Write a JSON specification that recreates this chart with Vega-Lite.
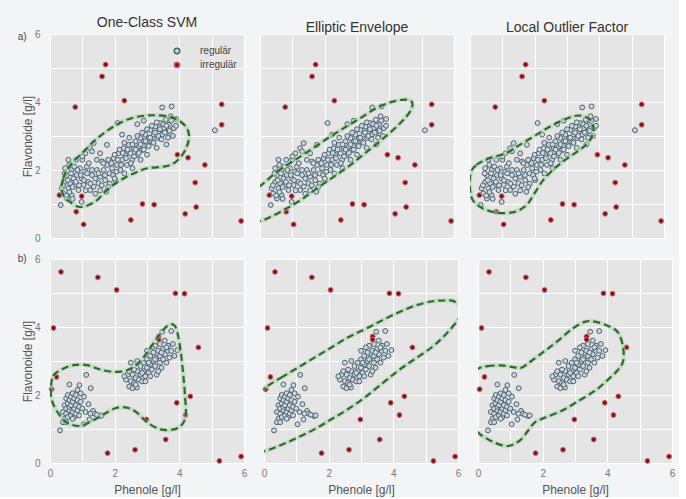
{
"$schema": "https://vega.github.io/schema/vega-lite/v6.json",
"background": "#f3f4f6",
"padding": {"left": 17, "top": 16, "right": 4, "bottom": 2},
"config": {
  "font": "Liberation Sans",
  "view": {"fill": "#e5e5e5", "stroke": null},
  "axis": {"grid": true, "gridColor": "#ffffff", "gridWidth": 1, "domain": false, "ticks": false, "labelColor": "#777777", "labelFontSize": 10, "titleColor": "#555555", "titleFontSize": 12, "titleFontWeight": "normal", "minExtent": 0, "labelFlush": false, "labelOverlap": false, "labelBound": false},
  "title": {"fontSize": 14, "fontWeight": "normal", "color": "#333333", "offset": -1},
  "legend": {"labelFontSize": 10, "labelColor": "#444444", "symbolSize": 30, "rowPadding": 2, "padding": 0, "labelOffset": 18}
},
"datasets": {
"ptsA": [
{"x":0.47,"y":1.65,"c":"regulär"},{"x":0.52,"y":1.85,"c":"regulär"},{"x":0.57,"y":1.46,"c":"regulär"},{"x":0.62,"y":1.61,"c":"regulär"},{"x":0.67,"y":2.0,"c":"regulär"},{"x":0.73,"y":1.75,"c":"regulär"},{"x":0.78,"y":1.56,"c":"regulär"},{"x":0.83,"y":1.85,"c":"regulär"},{"x":0.88,"y":1.41,"c":"regulär"},{"x":0.57,"y":2.3,"c":"regulär"},{"x":0.81,"y":2.3,"c":"regulär"},{"x":0.93,"y":2.05,"c":"regulär"},{"x":0.41,"y":1.31,"c":"regulär"},{"x":0.67,"y":1.26,"c":"regulär"},{"x":0.52,"y":1.16,"c":"regulär"},{"x":0.36,"y":1.46,"c":"regulär"},{"x":0.47,"y":2.05,"c":"regulär"},{"x":0.98,"y":1.75,"c":"regulär"},{"x":1.04,"y":1.56,"c":"regulär"},{"x":1.09,"y":1.95,"c":"regulär"},{"x":1.14,"y":2.1,"c":"regulär"},{"x":1.19,"y":1.65,"c":"regulär"},{"x":1.24,"y":1.41,"c":"regulär"},{"x":1.3,"y":1.85,"c":"regulär"},{"x":1.35,"y":1.51,"c":"regulär"},{"x":1.24,"y":2.64,"c":"regulär"},{"x":1.35,"y":2.79,"c":"regulär"},{"x":1.45,"y":2.0,"c":"regulär"},{"x":1.5,"y":1.61,"c":"regulär"},{"x":1.55,"y":1.8,"c":"regulär"},{"x":1.61,"y":2.25,"c":"regulär"},{"x":1.66,"y":2.0,"c":"regulär"},{"x":1.71,"y":1.7,"c":"regulär"},{"x":1.74,"y":1.36,"c":"regulär"},{"x":1.76,"y":2.15,"c":"regulär"},{"x":1.84,"y":1.9,"c":"regulär"},{"x":1.92,"y":2.05,"c":"regulär"},{"x":1.97,"y":2.35,"c":"regulär"},{"x":2.02,"y":1.7,"c":"regulär"},{"x":2.07,"y":2.15,"c":"regulär"},{"x":2.12,"y":2.49,"c":"regulär"},{"x":2.18,"y":2.0,"c":"regulär"},{"x":2.23,"y":2.3,"c":"regulär"},{"x":2.28,"y":2.64,"c":"regulär"},{"x":2.33,"y":2.44,"c":"regulär"},{"x":2.38,"y":2.15,"c":"regulär"},{"x":2.44,"y":2.74,"c":"regulär"},{"x":2.49,"y":2.49,"c":"regulär"},{"x":2.54,"y":2.3,"c":"regulär"},{"x":2.59,"y":2.64,"c":"regulär"},{"x":2.64,"y":2.84,"c":"regulär"},{"x":2.69,"y":2.44,"c":"regulär"},{"x":2.75,"y":2.69,"c":"regulär"},{"x":2.8,"y":2.94,"c":"regulär"},{"x":2.85,"y":2.59,"c":"regulär"},{"x":2.9,"y":2.84,"c":"regulär"},{"x":2.95,"y":3.04,"c":"regulär"},{"x":3.01,"y":2.74,"c":"regulär"},{"x":3.06,"y":2.94,"c":"regulär"},{"x":3.11,"y":3.18,"c":"regulär"},{"x":3.16,"y":2.84,"c":"regulär"},{"x":3.21,"y":3.04,"c":"regulär"},{"x":3.26,"y":3.28,"c":"regulär"},{"x":3.32,"y":2.94,"c":"regulär"},{"x":3.37,"y":3.13,"c":"regulär"},{"x":3.42,"y":3.38,"c":"regulär"},{"x":3.47,"y":3.04,"c":"regulär"},{"x":3.52,"y":3.23,"c":"regulär"},{"x":3.58,"y":3.48,"c":"regulär"},{"x":3.63,"y":3.13,"c":"regulär"},{"x":3.68,"y":3.33,"c":"regulär"},{"x":3.73,"y":3.58,"c":"regulär"},{"x":3.83,"y":3.23,"c":"regulär"},{"x":3.9,"y":3.5,"c":"regulär"},{"x":3.47,"y":3.84,"c":"regulär"},{"x":3.76,"y":3.87,"c":"regulär"},{"x":2.09,"y":3.38,"c":"regulär"},{"x":2.23,"y":3.04,"c":"regulär"},{"x":1.76,"y":2.74,"c":"regulär"},{"x":1.55,"y":2.49,"c":"regulär"},{"x":1.09,"y":2.49,"c":"regulär"},{"x":0.98,"y":1.06,"c":"regulär"},{"x":0.33,"y":0.97,"c":"regulär"},{"x":5.1,"y":3.17,"c":"regulär"},
{"x":0.45,"y":1.9,"c":"regulär"},{"x":0.55,"y":1.7,"c":"regulär"},{"x":0.6,"y":1.35,"c":"regulär"},{"x":0.65,"y":1.9,"c":"regulär"},{"x":0.7,"y":1.5,"c":"regulär"},{"x":0.75,"y":2.1,"c":"regulär"},{"x":0.8,"y":1.65,"c":"regulär"},{"x":0.85,"y":2.0,"c":"regulär"},{"x":0.9,"y":1.55,"c":"regulär"},{"x":0.95,"y":1.85,"c":"regulär"},{"x":1.0,"y":2.3,"c":"regulär"},{"x":1.05,"y":1.7,"c":"regulär"},{"x":1.1,"y":1.4,"c":"regulär"},{"x":1.15,"y":1.9,"c":"regulär"},{"x":1.2,"y":2.2,"c":"regulär"},{"x":1.25,"y":1.6,"c":"regulär"},{"x":1.3,"y":2.0,"c":"regulär"},{"x":1.4,"y":1.75,"c":"regulär"},{"x":1.45,"y":2.3,"c":"regulär"},{"x":1.5,"y":1.9,"c":"regulär"},{"x":1.6,"y":1.55,"c":"regulär"},{"x":1.65,"y":2.2,"c":"regulär"},{"x":1.7,"y":1.85,"c":"regulär"},{"x":1.8,"y":2.3,"c":"regulär"},{"x":1.85,"y":1.6,"c":"regulär"},{"x":1.9,"y":2.2,"c":"regulär"},{"x":1.95,"y":1.85,"c":"regulär"},{"x":2.0,"y":2.45,"c":"regulär"},{"x":2.05,"y":1.95,"c":"regulär"},{"x":2.1,"y":2.3,"c":"regulär"},{"x":2.15,"y":2.6,"c":"regulär"},{"x":2.2,"y":2.15,"c":"regulär"},{"x":2.25,"y":2.5,"c":"regulär"},{"x":2.3,"y":2.8,"c":"regulär"},{"x":2.35,"y":2.35,"c":"regulär"},{"x":2.4,"y":2.6,"c":"regulär"},{"x":2.45,"y":2.95,"c":"regulär"},{"x":2.5,"y":2.2,"c":"regulär"},{"x":2.55,"y":2.75,"c":"regulär"},{"x":2.6,"y":2.4,"c":"regulär"},{"x":2.65,"y":2.6,"c":"regulär"},{"x":2.7,"y":3.0,"c":"regulär"},{"x":2.75,"y":2.5,"c":"regulär"},{"x":2.8,"y":2.75,"c":"regulär"},{"x":2.85,"y":3.1,"c":"regulär"},{"x":2.9,"y":2.6,"c":"regulär"},{"x":2.95,"y":2.85,"c":"regulär"},{"x":3.0,"y":3.2,"c":"regulär"},{"x":3.05,"y":2.7,"c":"regulär"},{"x":3.1,"y":2.95,"c":"regulär"},{"x":3.15,"y":3.3,"c":"regulär"},{"x":3.2,"y":2.8,"c":"regulär"},{"x":3.25,"y":3.1,"c":"regulär"},{"x":3.3,"y":3.4,"c":"regulär"},{"x":3.35,"y":3.0,"c":"regulär"},{"x":3.4,"y":3.2,"c":"regulär"},{"x":3.45,"y":2.9,"c":"regulär"},{"x":3.5,"y":3.35,"c":"regulär"},{"x":3.55,"y":3.1,"c":"regulär"},{"x":3.6,"y":3.3,"c":"regulär"},{"x":3.65,"y":2.95,"c":"regulär"},{"x":3.7,"y":3.15,"c":"regulär"},{"x":3.75,"y":3.45,"c":"regulär"},{"x":3.8,"y":3.0,"c":"regulär"},{"x":3.9,"y":3.3,"c":"regulär"},{"x":2.7,"y":3.35,"c":"regulär"},{"x":2.9,"y":3.45,"c":"regulär"},{"x":1.3,"y":2.55,"c":"regulär"},{"x":1.0,"y":2.4,"c":"regulär"},{"x":0.6,"y":2.15,"c":"regulär"},{"x":0.4,"y":1.55,"c":"regulär"},{"x":0.5,"y":1.25,"c":"regulär"},{"x":0.7,"y":1.15,"c":"regulär"},{"x":3.6,"y":2.75,"c":"regulär"},{"x":3.3,"y":2.65,"c":"regulär"},{"x":3.0,"y":2.45,"c":"regulär"},{"x":2.8,"y":2.3,"c":"regulär"},{"x":2.55,"y":2.05,"c":"regulär"},{"x":2.3,"y":1.9,"c":"regulär"},{"x":2.0,"y":1.75,"c":"regulär"},{"x":1.8,"y":1.5,"c":"regulär"},{"x":1.55,"y":1.4,"c":"regulär"},{"x":1.4,"y":1.3,"c":"regulär"},
{"x":0.29,"y":1.26,"c":"irregulär"},{"x":0.78,"y":3.85,"c":"irregulär"},{"x":0.81,"y":0.77,"c":"irregulär"},{"x":0.98,"y":1.23,"c":"irregulär"},{"x":1.04,"y":0.4,"c":"irregulär"},{"x":1.61,"y":4.75,"c":"irregulär"},{"x":1.72,"y":5.1,"c":"irregulär"},{"x":2.3,"y":4.04,"c":"irregulär"},{"x":2.5,"y":0.53,"c":"irregulär"},{"x":2.86,"y":1.0,"c":"irregulär"},{"x":3.22,"y":0.98,"c":"irregulär"},{"x":3.94,"y":2.45,"c":"irregulär"},{"x":4.27,"y":2.36,"c":"irregulär"},{"x":4.18,"y":0.71,"c":"irregulär"},{"x":4.49,"y":1.63,"c":"irregulär"},{"x":4.52,"y":0.91,"c":"irregulär"},{"x":4.79,"y":2.15,"c":"irregulär"},{"x":5.31,"y":3.93,"c":"irregulär"},{"x":5.31,"y":3.33,"c":"irregulär"},{"x":5.91,"y":0.5,"c":"irregulär"}
],
"ptsB": [
{"x":0.31,"y":0.96,"c":"regulär"},{"x":0.6,"y":2.31,"c":"regulär"},{"x":0.91,"y":2.29,"c":"regulär"},{"x":1.12,"y":2.59,"c":"regulär"},{"x":1.26,"y":2.2,"c":"regulär"},{"x":1.19,"y":1.73,"c":"regulär"},{"x":1.33,"y":1.53,"c":"regulär"},{"x":1.38,"y":1.45,"c":"regulär"},{"x":1.55,"y":1.38,"c":"regulär"},{"x":1.22,"y":1.28,"c":"regulär"},{"x":1.04,"y":1.14,"c":"regulär"},{"x":1.1,"y":1.5,"c":"regulär"},{"x":1.25,"y":1.45,"c":"regulär"},{"x":1.45,"y":1.42,"c":"regulär"},{"x":1.6,"y":1.4,"c":"regulär"},
{"x":0.4,"y":1.5,"c":"regulär"},{"x":0.45,"y":1.3,"c":"regulär"},{"x":0.45,"y":1.7,"c":"regulär"},{"x":0.5,"y":1.45,"c":"regulär"},{"x":0.5,"y":1.6,"c":"regulär"},{"x":0.5,"y":1.9,"c":"regulär"},{"x":0.55,"y":1.35,"c":"regulär"},{"x":0.55,"y":1.75,"c":"regulär"},{"x":0.55,"y":2.0,"c":"regulär"},{"x":0.6,"y":1.55,"c":"regulär"},{"x":0.6,"y":1.65,"c":"regulär"},{"x":0.6,"y":1.85,"c":"regulär"},{"x":0.65,"y":1.4,"c":"regulär"},{"x":0.65,"y":1.7,"c":"regulär"},{"x":0.65,"y":1.95,"c":"regulär"},{"x":0.7,"y":1.5,"c":"regulär"},{"x":0.7,"y":1.8,"c":"regulär"},{"x":0.7,"y":2.05,"c":"regulär"},{"x":0.75,"y":1.6,"c":"regulär"},{"x":0.75,"y":1.9,"c":"regulär"},{"x":0.75,"y":1.35,"c":"regulär"},{"x":0.8,"y":1.7,"c":"regulär"},{"x":0.8,"y":1.45,"c":"regulär"},{"x":0.8,"y":2.0,"c":"regulär"},{"x":0.85,"y":1.55,"c":"regulär"},{"x":0.85,"y":1.85,"c":"regulär"},{"x":0.9,"y":1.65,"c":"regulär"},{"x":0.9,"y":1.4,"c":"regulär"},{"x":0.95,"y":1.8,"c":"regulär"},{"x":0.95,"y":2.05,"c":"regulär"},{"x":1.0,"y":1.6,"c":"regulär"},{"x":0.4,"y":1.2,"c":"regulär"},{"x":0.5,"y":1.2,"c":"regulär"},{"x":0.7,"y":1.3,"c":"regulär"},{"x":0.85,"y":2.15,"c":"regulär"},{"x":1.05,"y":1.95,"c":"regulär"},
{"x":3.47,"y":3.86,"c":"regulär"},{"x":3.75,"y":3.88,"c":"regulär"},{"x":3.94,"y":3.32,"c":"regulär"},{"x":3.63,"y":3.29,"c":"regulär"},{"x":2.35,"y":2.45,"c":"regulär"},{"x":2.45,"y":2.25,"c":"regulär"},{"x":2.5,"y":2.41,"c":"regulär"},{"x":2.55,"y":2.6,"c":"regulär"},{"x":2.6,"y":2.35,"c":"regulär"},{"x":2.65,"y":2.5,"c":"regulär"},{"x":2.69,"y":2.22,"c":"regulär"},{"x":2.7,"y":2.7,"c":"regulär"},{"x":2.75,"y":2.45,"c":"regulär"},{"x":2.8,"y":2.6,"c":"regulär"},{"x":2.8,"y":2.85,"c":"regulär"},{"x":2.85,"y":2.4,"c":"regulär"},{"x":2.9,"y":2.7,"c":"regulär"},{"x":2.9,"y":2.95,"c":"regulär"},{"x":2.95,"y":2.55,"c":"regulär"},{"x":3.0,"y":2.8,"c":"regulär"},{"x":3.0,"y":3.05,"c":"regulär"},{"x":3.05,"y":2.65,"c":"regulär"},{"x":3.1,"y":2.9,"c":"regulär"},{"x":3.1,"y":3.15,"c":"regulär"},{"x":3.15,"y":2.75,"c":"regulär"},{"x":3.2,"y":3.0,"c":"regulär"},{"x":3.2,"y":3.25,"c":"regulär"},{"x":3.25,"y":2.85,"c":"regulär"},{"x":3.3,"y":3.1,"c":"regulär"},{"x":3.3,"y":2.6,"c":"regulär"},{"x":3.35,"y":3.3,"c":"regulär"},{"x":3.4,"y":2.95,"c":"regulär"},{"x":3.4,"y":3.15,"c":"regulär"},{"x":3.45,"y":2.8,"c":"regulär"},{"x":3.5,"y":3.05,"c":"regulär"},{"x":3.5,"y":3.35,"c":"regulär"},{"x":3.55,"y":3.2,"c":"regulär"},{"x":3.6,"y":2.95,"c":"regulär"},{"x":3.65,"y":3.45,"c":"regulär"},{"x":3.7,"y":3.1,"c":"regulär"},{"x":3.75,"y":3.3,"c":"regulär"},{"x":3.8,"y":3.5,"c":"regulär"},{"x":3.85,"y":3.15,"c":"regulär"},{"x":3.55,"y":3.6,"c":"regulär"},{"x":3.4,"y":3.5,"c":"regulär"},{"x":3.25,"y":3.45,"c":"regulär"},{"x":2.6,"y":2.75,"c":"regulär"},{"x":2.5,"y":2.95,"c":"regulär"},{"x":2.4,"y":2.6,"c":"regulär"},{"x":2.55,"y":2.2,"c":"regulär"},{"x":2.7,"y":3.0,"c":"regulär"},{"x":3.0,"y":3.3,"c":"regulär"},{"x":3.15,"y":3.4,"c":"regulär"},{"x":2.95,"y":2.4,"c":"regulär"},{"x":3.1,"y":2.55,"c":"regulär"},{"x":3.35,"y":2.7,"c":"regulär"},{"x":2.65,"y":2.3,"c":"regulär"},{"x":2.85,"y":2.65,"c":"regulär"},{"x":3.05,"y":2.95,"c":"regulär"},{"x":3.25,"y":3.05,"c":"regulär"},{"x":3.45,"y":3.25,"c":"regulär"},{"x":3.6,"y":3.4,"c":"regulär"},{"x":2.45,"y":2.7,"c":"regulär"},{"x":2.3,"y":2.55,"c":"regulär"},
{"x":0.34,"y":5.62,"c":"irregulär"},{"x":1.48,"y":5.46,"c":"irregulär"},{"x":2.06,"y":5.09,"c":"irregulär"},{"x":3.88,"y":4.99,"c":"irregulär"},{"x":4.16,"y":4.98,"c":"irregulär"},{"x":0.11,"y":3.97,"c":"irregulär"},{"x":3.36,"y":3.72,"c":"irregulär"},{"x":3.36,"y":3.63,"c":"irregulär"},{"x":4.59,"y":3.4,"c":"irregulär"},{"x":0.05,"y":2.17,"c":"irregulär"},{"x":0.2,"y":2.53,"c":"irregulär"},{"x":4.34,"y":1.96,"c":"irregulär"},{"x":3.92,"y":1.77,"c":"irregulär"},{"x":2.98,"y":1.28,"c":"irregulär"},{"x":4.19,"y":1.41,"c":"irregulär"},{"x":3.58,"y":0.69,"c":"irregulär"},{"x":1.78,"y":0.29,"c":"irregulär"},{"x":2.63,"y":0.39,"c":"irregulär"},{"x":5.24,"y":0.06,"c":"irregulär"},{"x":5.91,"y":0.19,"c":"irregulär"}
],
"cont": [
{"p":"a1","i":0,"x":0.36,"y":1.46},{"p":"a1","i":1,"x":0.41,"y":1.75},{"p":"a1","i":2,"x":0.52,"y":2.0},{"p":"a1","i":3,"x":0.73,"y":2.25},{"p":"a1","i":4,"x":1.04,"y":2.54},{"p":"a1","i":5,"x":1.35,"y":2.84},{"p":"a1","i":6,"x":1.66,"y":3.08},{"p":"a1","i":7,"x":2.02,"y":3.31},{"p":"a1","i":8,"x":2.38,"y":3.48},{"p":"a1","i":9,"x":2.8,"y":3.58},{"p":"a1","i":10,"x":3.21,"y":3.61},{"p":"a1","i":11,"x":3.63,"y":3.58},{"p":"a1","i":12,"x":3.94,"y":3.48},{"p":"a1","i":13,"x":4.2,"y":3.28},{"p":"a1","i":14,"x":4.3,"y":3.03},{"p":"a1","i":15,"x":4.25,"y":2.74},{"p":"a1","i":16,"x":4.09,"y":2.44},{"p":"a1","i":17,"x":3.83,"y":2.2},{"p":"a1","i":18,"x":3.52,"y":2.1},{"p":"a1","i":19,"x":3.01,"y":2.05},{"p":"a1","i":20,"x":2.59,"y":1.9},{"p":"a1","i":21,"x":2.18,"y":1.7},{"p":"a1","i":22,"x":1.76,"y":1.41},{"p":"a1","i":23,"x":1.45,"y":1.11},{"p":"a1","i":24,"x":1.14,"y":0.95},{"p":"a1","i":25,"x":0.88,"y":0.92},{"p":"a1","i":26,"x":0.62,"y":1.06},{"p":"a1","i":27,"x":0.44,"y":1.21},
{"p":"a2","i":0,"x":0.01,"y":1.53},{"p":"a2","i":1,"x":0.53,"y":1.95},{"p":"a2","i":2,"x":1.04,"y":2.27},{"p":"a2","i":3,"x":1.56,"y":2.59},{"p":"a2","i":4,"x":2.07,"y":2.92},{"p":"a2","i":5,"x":2.59,"y":3.23},{"p":"a2","i":6,"x":3.11,"y":3.53},{"p":"a2","i":7,"x":3.62,"y":3.83},{"p":"a2","i":8,"x":4.14,"y":4.02},{"p":"a2","i":9,"x":4.55,"y":4.07},{"p":"a2","i":10,"x":4.71,"y":3.97},{"p":"a2","i":11,"x":4.65,"y":3.73},{"p":"a2","i":12,"x":4.34,"y":3.38},{"p":"a2","i":13,"x":3.83,"y":2.94},{"p":"a2","i":14,"x":3.31,"y":2.54},{"p":"a2","i":15,"x":2.8,"y":2.15},{"p":"a2","i":16,"x":2.28,"y":1.8},{"p":"a2","i":17,"x":1.76,"y":1.46},{"p":"a2","i":18,"x":1.25,"y":1.11},{"p":"a2","i":19,"x":0.73,"y":0.82},{"p":"a2","i":20,"x":0.22,"y":0.57},{"p":"a2","i":21,"x":0.01,"y":0.5},{"p":"a2","i":22,"x":-0.3,"y":0.45},{"p":"a2","i":23,"x":-0.5,"y":0.9},{"p":"a2","i":24,"x":-0.3,"y":1.35},
{"p":"a3","i":0,"x":0.02,"y":1.9},{"p":"a3","i":1,"x":0.2,"y":2.15},{"p":"a3","i":2,"x":0.61,"y":2.35},{"p":"a3","i":3,"x":1.13,"y":2.5},{"p":"a3","i":4,"x":1.54,"y":2.74},{"p":"a3","i":5,"x":2.06,"y":3.04},{"p":"a3","i":6,"x":2.58,"y":3.33},{"p":"a3","i":7,"x":3.1,"y":3.55},{"p":"a3","i":8,"x":3.41,"y":3.6},{"p":"a3","i":9,"x":3.72,"y":3.48},{"p":"a3","i":10,"x":3.82,"y":3.19},{"p":"a3","i":11,"x":3.72,"y":2.89},{"p":"a3","i":12,"x":3.46,"y":2.64},{"p":"a3","i":13,"x":3.1,"y":2.4},{"p":"a3","i":14,"x":2.68,"y":2.1},{"p":"a3","i":15,"x":2.27,"y":1.71},{"p":"a3","i":16,"x":1.96,"y":1.26},{"p":"a3","i":17,"x":1.75,"y":0.97},{"p":"a3","i":18,"x":1.39,"y":0.77},{"p":"a3","i":19,"x":0.87,"y":0.74},{"p":"a3","i":20,"x":0.4,"y":0.87},{"p":"a3","i":21,"x":0.09,"y":1.11},{"p":"a3","i":22,"x":0.0,"y":1.45},
{"p":"b1","i":0,"x":0.03,"y":2.22},{"p":"b1","i":1,"x":0.1,"y":2.56},{"p":"b1","i":2,"x":0.36,"y":2.75},{"p":"b1","i":3,"x":0.73,"y":2.88},{"p":"b1","i":4,"x":1.14,"y":2.88},{"p":"b1","i":5,"x":1.55,"y":2.75},{"p":"b1","i":6,"x":1.97,"y":2.68},{"p":"b1","i":7,"x":2.38,"y":2.73},{"p":"b1","i":8,"x":2.69,"y":2.9},{"p":"b1","i":9,"x":3.01,"y":3.25},{"p":"b1","i":10,"x":3.32,"y":3.69},{"p":"b1","i":11,"x":3.63,"y":4.03},{"p":"b1","i":12,"x":3.83,"y":4.06},{"p":"b1","i":13,"x":3.94,"y":3.83},{"p":"b1","i":14,"x":4.04,"y":3.29},{"p":"b1","i":15,"x":4.12,"y":2.61},{"p":"b1","i":16,"x":4.18,"y":1.92},{"p":"b1","i":17,"x":4.2,"y":1.43},{"p":"b1","i":18,"x":4.09,"y":1.14},{"p":"b1","i":19,"x":3.83,"y":0.99},{"p":"b1","i":20,"x":3.42,"y":0.99},{"p":"b1","i":21,"x":3.01,"y":1.19},{"p":"b1","i":22,"x":2.69,"y":1.48},{"p":"b1","i":23,"x":2.38,"y":1.63},{"p":"b1","i":24,"x":2.02,"y":1.61},{"p":"b1","i":25,"x":1.66,"y":1.43},{"p":"b1","i":26,"x":1.3,"y":1.24},{"p":"b1","i":27,"x":0.93,"y":1.09},{"p":"b1","i":28,"x":0.52,"y":1.19},{"p":"b1","i":29,"x":0.21,"y":1.53},{"p":"b1","i":30,"x":0.05,"y":1.87},
{"p":"b2","i":0,"x":0.04,"y":2.22},{"p":"b2","i":1,"x":0.53,"y":2.51},{"p":"b2","i":2,"x":1.04,"y":2.8},{"p":"b2","i":3,"x":1.56,"y":3.1},{"p":"b2","i":4,"x":2.07,"y":3.39},{"p":"b2","i":5,"x":2.59,"y":3.69},{"p":"b2","i":6,"x":3.11,"y":3.93},{"p":"b2","i":7,"x":3.62,"y":4.18},{"p":"b2","i":8,"x":4.14,"y":4.42},{"p":"b2","i":9,"x":4.65,"y":4.62},{"p":"b2","i":10,"x":5.17,"y":4.75},{"p":"b2","i":11,"x":5.58,"y":4.78},{"p":"b2","i":12,"x":5.89,"y":4.75},{"p":"b2","i":13,"x":6.15,"y":4.45},{"p":"b2","i":14,"x":5.98,"y":4.18},{"p":"b2","i":15,"x":5.58,"y":3.74},{"p":"b2","i":16,"x":5.17,"y":3.39},{"p":"b2","i":17,"x":4.65,"y":3.05},{"p":"b2","i":18,"x":4.14,"y":2.71},{"p":"b2","i":19,"x":3.62,"y":2.31},{"p":"b2","i":20,"x":3.11,"y":1.92},{"p":"b2","i":21,"x":2.59,"y":1.58},{"p":"b2","i":22,"x":2.07,"y":1.28},{"p":"b2","i":23,"x":1.56,"y":0.99},{"p":"b2","i":24,"x":1.04,"y":0.75},{"p":"b2","i":25,"x":0.53,"y":0.53},{"p":"b2","i":26,"x":0.01,"y":0.35},{"p":"b2","i":27,"x":-0.5,"y":0.3},{"p":"b2","i":28,"x":-0.8,"y":0.95},{"p":"b2","i":29,"x":-0.5,"y":1.8},
{"p":"b3","i":0,"x":0.01,"y":2.78},{"p":"b3","i":1,"x":0.3,"y":2.85},{"p":"b3","i":2,"x":0.71,"y":2.87},{"p":"b3","i":3,"x":1.08,"y":2.82},{"p":"b3","i":4,"x":1.34,"y":2.8},{"p":"b3","i":5,"x":1.65,"y":3.0},{"p":"b3","i":6,"x":2.06,"y":3.29},{"p":"b3","i":7,"x":2.47,"y":3.59},{"p":"b3","i":8,"x":2.89,"y":3.93},{"p":"b3","i":9,"x":3.3,"y":4.15},{"p":"b3","i":10,"x":3.61,"y":4.16},{"p":"b3","i":11,"x":4.03,"y":4.03},{"p":"b3","i":12,"x":4.34,"y":3.83},{"p":"b3","i":13,"x":4.49,"y":3.39},{"p":"b3","i":14,"x":4.49,"y":3.0},{"p":"b3","i":15,"x":4.34,"y":2.75},{"p":"b3","i":16,"x":4.03,"y":2.46},{"p":"b3","i":17,"x":3.61,"y":2.12},{"p":"b3","i":18,"x":3.1,"y":1.82},{"p":"b3","i":19,"x":2.58,"y":1.53},{"p":"b3","i":20,"x":2.06,"y":1.33},{"p":"b3","i":21,"x":1.75,"y":1.19},{"p":"b3","i":22,"x":1.54,"y":0.94},{"p":"b3","i":23,"x":1.28,"y":0.65},{"p":"b3","i":24,"x":0.92,"y":0.5},{"p":"b3","i":25,"x":0.51,"y":0.6},{"p":"b3","i":26,"x":0.2,"y":0.76},{"p":"b3","i":27,"x":0.01,"y":0.89},{"p":"b3","i":28,"x":-0.3,"y":1.2},{"p":"b3","i":29,"x":-0.4,"y":2.0},{"p":"b3","i":30,"x":-0.3,"y":2.6}
]
},
"spacing": 11,
"resolve": {"scale": {"fill": "independent", "stroke": "independent"}, "legend": {"fill": "independent", "stroke": "independent"}},
"vconcat": [
{
"title": {"text": "a)", "orient": "left", "angle": 0, "anchor": "end", "fontSize": 10, "color": "#444444", "offset": -14, "baseline": "middle", "dy": 21},
"spacing": 14,
"resolve": {"scale": {"fill": "independent", "stroke": "independent"}, "legend": {"fill": "independent", "stroke": "independent"}},
"hconcat": [
{"width": 194, "height": 204, "title": "One-Class SVM",
 "encoding": {
  "x": {"field": "x", "type": "quantitative", "scale": {"domain": [0, 6], "nice": false}, "axis": {"values": [0,1,2,3,4,5,6], "labels": false, "title": null}},
  "y": {"field": "y", "type": "quantitative", "scale": {"domain": [0, 6], "nice": false}, "axis": {"values": [0,1,2,3,4,5,6], "labelExpr": "datum.value % 2 === 0 ? datum.label : ''", "labelPadding": 10, "title": "Flavonoide [g/l]", "titlePadding": 0}}
 },
 "layer": [
  {"data": {"name": "ptsA"}, "mark": {"type": "point", "filled": true, "size": 24, "strokeWidth": 1, "opacity": 1},
   "encoding": {
    "fill": {"field": "c", "type": "nominal", "scale": {"domain": ["regulär", "irregulär"], "range": ["#c9d8e0", "#7c1518"]}, "legend": {"orient": "none", "legendX": 122, "legendY": 12, "title": null}},
    "stroke": {"field": "c", "type": "nominal", "scale": {"domain": ["regulär", "irregulär"], "range": ["#4e606c", "#cf6a6c"]}, "legend": {"orient": "none", "legendX": 122, "legendY": 12, "title": null}}
   }},
  {"data": {"name": "cont"}, "transform": [{"filter": "datum.p == 'a1'"}], "mark": {"type": "line", "clip": true, "interpolate": "cardinal-closed", "color": "#a9d6a4", "strokeWidth": 4.5, "opacity": 0.5}, "encoding": {"order": {"field": "i", "type": "quantitative"}}},
  {"data": {"name": "cont"}, "transform": [{"filter": "datum.p == 'a1'"}], "mark": {"type": "line", "clip": true, "interpolate": "cardinal-closed", "color": "#2d6a31", "strokeWidth": 2.2, "strokeDash": [7, 4]}, "encoding": {"order": {"field": "i", "type": "quantitative"}}}
 ]},
{"width": 194, "height": 204, "title": "Elliptic Envelope",
 "encoding": {
  "x": {"field": "x", "type": "quantitative", "scale": {"domain": [0, 6], "nice": false}, "axis": {"values": [0,1,2,3,4,5,6], "labels": false, "title": null}},
  "y": {"field": "y", "type": "quantitative", "scale": {"domain": [0, 6], "nice": false}, "axis": {"values": [0,1,2,3,4,5,6], "labels": false, "title": null}}
 },
 "layer": [
  {"data": {"name": "ptsA"}, "mark": {"type": "point", "filled": true, "size": 24, "strokeWidth": 1, "opacity": 1},
   "encoding": {
    "fill": {"field": "c", "type": "nominal", "scale": {"domain": ["regulär", "irregulär"], "range": ["#c9d8e0", "#7c1518"]}, "legend": null},
    "stroke": {"field": "c", "type": "nominal", "scale": {"domain": ["regulär", "irregulär"], "range": ["#4e606c", "#cf6a6c"]}, "legend": null}
   }},
  {"data": {"name": "cont"}, "transform": [{"filter": "datum.p == 'a2'"}], "mark": {"type": "line", "clip": true, "interpolate": "cardinal-closed", "color": "#a9d6a4", "strokeWidth": 4.5, "opacity": 0.5}, "encoding": {"order": {"field": "i", "type": "quantitative"}}},
  {"data": {"name": "cont"}, "transform": [{"filter": "datum.p == 'a2'"}], "mark": {"type": "line", "clip": true, "interpolate": "cardinal-closed", "color": "#2d6a31", "strokeWidth": 2.2, "strokeDash": [7, 4]}, "encoding": {"order": {"field": "i", "type": "quantitative"}}}
 ]},
{"width": 194, "height": 204, "title": "Local Outlier Factor",
 "encoding": {
  "x": {"field": "x", "type": "quantitative", "scale": {"domain": [0, 6], "nice": false}, "axis": {"values": [0,1,2,3,4,5,6], "labels": false, "title": null}},
  "y": {"field": "y", "type": "quantitative", "scale": {"domain": [0, 6], "nice": false}, "axis": {"values": [0,1,2,3,4,5,6], "labels": false, "title": null}}
 },
 "layer": [
  {"data": {"name": "ptsA"}, "mark": {"type": "point", "filled": true, "size": 24, "strokeWidth": 1, "opacity": 1},
   "encoding": {
    "fill": {"field": "c", "type": "nominal", "scale": {"domain": ["regulär", "irregulär"], "range": ["#c9d8e0", "#7c1518"]}, "legend": null},
    "stroke": {"field": "c", "type": "nominal", "scale": {"domain": ["regulär", "irregulär"], "range": ["#4e606c", "#cf6a6c"]}, "legend": null}
   }},
  {"data": {"name": "cont"}, "transform": [{"filter": "datum.p == 'a3'"}], "mark": {"type": "line", "clip": true, "interpolate": "cardinal-closed", "color": "#a9d6a4", "strokeWidth": 4.5, "opacity": 0.5}, "encoding": {"order": {"field": "i", "type": "quantitative"}}},
  {"data": {"name": "cont"}, "transform": [{"filter": "datum.p == 'a3'"}], "mark": {"type": "line", "clip": true, "interpolate": "cardinal-closed", "color": "#2d6a31", "strokeWidth": 2.2, "strokeDash": [7, 4]}, "encoding": {"order": {"field": "i", "type": "quantitative"}}}
 ]}
]
},
{
"title": {"text": "b)", "orient": "left", "angle": 0, "anchor": "end", "fontSize": 10, "color": "#444444", "offset": -14, "baseline": "middle", "dy": 5},
"spacing": 14,
"resolve": {"scale": {"fill": "independent", "stroke": "independent"}, "legend": {"fill": "independent", "stroke": "independent"}},
"hconcat": [
{"width": 194, "height": 204,
 "encoding": {
  "x": {"field": "x", "type": "quantitative", "scale": {"domain": [0, 6], "nice": false}, "axis": {"values": [0,1,2,3,4,5,6], "labelExpr": "datum.value % 2 === 0 ? datum.label : ''", "labelPadding": 5, "title": "Phenole [g/l]", "titlePadding": 6}},
  "y": {"field": "y", "type": "quantitative", "scale": {"domain": [0, 6], "nice": false}, "axis": {"values": [0,1,2,3,4,5,6], "labelExpr": "datum.value % 2 === 0 ? datum.label : ''", "labelPadding": 10, "title": "Flavonoide [g/l]", "titlePadding": 0}}
 },
 "layer": [
  {"data": {"name": "ptsB"}, "mark": {"type": "point", "filled": true, "size": 24, "strokeWidth": 1, "opacity": 1},
   "encoding": {
    "fill": {"field": "c", "type": "nominal", "scale": {"domain": ["regulär", "irregulär"], "range": ["#c9d8e0", "#7c1518"]}, "legend": null},
    "stroke": {"field": "c", "type": "nominal", "scale": {"domain": ["regulär", "irregulär"], "range": ["#4e606c", "#cf6a6c"]}, "legend": null}
   }},
  {"data": {"name": "cont"}, "transform": [{"filter": "datum.p == 'b1'"}], "mark": {"type": "line", "clip": true, "interpolate": "cardinal-closed", "color": "#a9d6a4", "strokeWidth": 4.5, "opacity": 0.5}, "encoding": {"order": {"field": "i", "type": "quantitative"}}},
  {"data": {"name": "cont"}, "transform": [{"filter": "datum.p == 'b1'"}], "mark": {"type": "line", "clip": true, "interpolate": "cardinal-closed", "color": "#2d6a31", "strokeWidth": 2.2, "strokeDash": [7, 4]}, "encoding": {"order": {"field": "i", "type": "quantitative"}}}
 ]},
{"width": 194, "height": 204,
 "encoding": {
  "x": {"field": "x", "type": "quantitative", "scale": {"domain": [0, 6], "nice": false}, "axis": {"values": [0,1,2,3,4,5,6], "labelExpr": "datum.value % 2 === 0 ? datum.label : ''", "labelPadding": 5, "title": "Phenole [g/l]", "titlePadding": 6}},
  "y": {"field": "y", "type": "quantitative", "scale": {"domain": [0, 6], "nice": false}, "axis": {"values": [0,1,2,3,4,5,6], "labels": false, "title": null}}
 },
 "layer": [
  {"data": {"name": "ptsB"}, "mark": {"type": "point", "filled": true, "size": 24, "strokeWidth": 1, "opacity": 1},
   "encoding": {
    "fill": {"field": "c", "type": "nominal", "scale": {"domain": ["regulär", "irregulär"], "range": ["#c9d8e0", "#7c1518"]}, "legend": null},
    "stroke": {"field": "c", "type": "nominal", "scale": {"domain": ["regulär", "irregulär"], "range": ["#4e606c", "#cf6a6c"]}, "legend": null}
   }},
  {"data": {"name": "cont"}, "transform": [{"filter": "datum.p == 'b2'"}], "mark": {"type": "line", "clip": true, "interpolate": "cardinal-closed", "color": "#a9d6a4", "strokeWidth": 4.5, "opacity": 0.5}, "encoding": {"order": {"field": "i", "type": "quantitative"}}},
  {"data": {"name": "cont"}, "transform": [{"filter": "datum.p == 'b2'"}], "mark": {"type": "line", "clip": true, "interpolate": "cardinal-closed", "color": "#2d6a31", "strokeWidth": 2.2, "strokeDash": [7, 4]}, "encoding": {"order": {"field": "i", "type": "quantitative"}}}
 ]},
{"width": 194, "height": 204,
 "encoding": {
  "x": {"field": "x", "type": "quantitative", "scale": {"domain": [0, 6], "nice": false}, "axis": {"values": [0,1,2,3,4,5,6], "labelExpr": "datum.value % 2 === 0 ? datum.label : ''", "labelPadding": 5, "title": "Phenole [g/l]", "titlePadding": 6}},
  "y": {"field": "y", "type": "quantitative", "scale": {"domain": [0, 6], "nice": false}, "axis": {"values": [0,1,2,3,4,5,6], "labels": false, "title": null}}
 },
 "layer": [
  {"data": {"name": "ptsB"}, "mark": {"type": "point", "filled": true, "size": 24, "strokeWidth": 1, "opacity": 1},
   "encoding": {
    "fill": {"field": "c", "type": "nominal", "scale": {"domain": ["regulär", "irregulär"], "range": ["#c9d8e0", "#7c1518"]}, "legend": null},
    "stroke": {"field": "c", "type": "nominal", "scale": {"domain": ["regulär", "irregulär"], "range": ["#4e606c", "#cf6a6c"]}, "legend": null}
   }},
  {"data": {"name": "cont"}, "transform": [{"filter": "datum.p == 'b3'"}], "mark": {"type": "line", "clip": true, "interpolate": "cardinal-closed", "color": "#a9d6a4", "strokeWidth": 4.5, "opacity": 0.5}, "encoding": {"order": {"field": "i", "type": "quantitative"}}},
  {"data": {"name": "cont"}, "transform": [{"filter": "datum.p == 'b3'"}], "mark": {"type": "line", "clip": true, "interpolate": "cardinal-closed", "color": "#2d6a31", "strokeWidth": 2.2, "strokeDash": [7, 4]}, "encoding": {"order": {"field": "i", "type": "quantitative"}}}
 ]}
]
}
]
}
